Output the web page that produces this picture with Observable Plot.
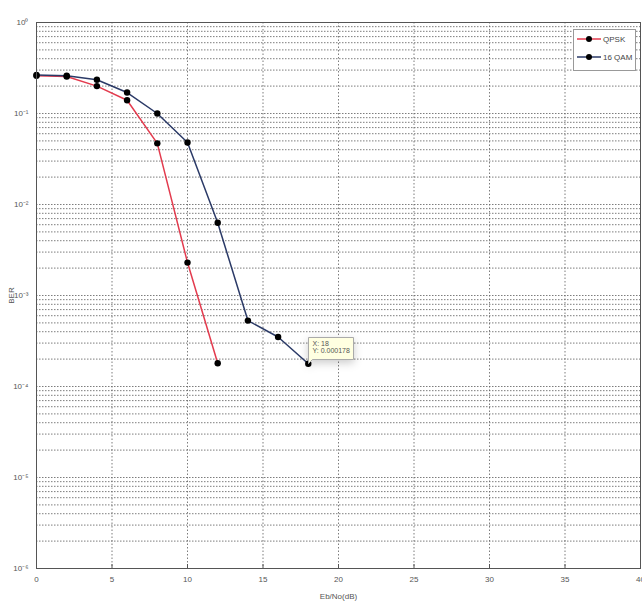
<!DOCTYPE html>
<html><head><meta charset="utf-8">
<script src="https://cdn.jsdelivr.net/npm/d3@7"></script>
<script src="https://cdn.jsdelivr.net/npm/@observablehq/plot@0.6"></script>
<style>
body{margin:0;background:#fff;font-family:"Liberation Sans",Arial,sans-serif;}
#wrap{position:relative;width:642px;height:602px;}
#legend{position:absolute;left:573px;top:29px;width:61px;height:40px;border:1px solid #999;background:#fff;font-size:8px;color:#444;white-space:nowrap;}
#legend .row{display:flex;align-items:center;height:18px;margin-left:3px;}
#legend svg{margin-right:2px;flex:none;}
</style>
</head><body>
<div id="wrap"><div id="legend"></div></div>
<script>
const ebno = [0, 2, 4, 6, 8, 10, 12, 14, 16, 18];
const qpsk = [0.26, 0.255, 0.2, 0.14, 0.047, 0.0023, 0.00018];
const qam16 = [0.265, 0.26, 0.235, 0.17, 0.1, 0.048, 0.0063, 0.00053, 0.00035, 0.000178];
const xTicks = [0, 5, 10, 15, 20, 25, 30, 35, 40];
const yTicks = [1, 1e-1, 1e-2, 1e-3, 1e-4, 1e-5, 1e-6];
const yTickLabels = ["10⁰", "10⁻¹", "10⁻²", "10⁻³", "10⁻⁴", "10⁻⁵", "10⁻⁶"];
const seriesNames = ["QPSK", "16 QAM"];
const seriesColors = ["#e33b4e", "#2b3a67"];
const tipPoint = {x: 18, y: 0.000178, label: "X: 18\nY: 0.000178"};

const rows = [];
qpsk.forEach((v, i) => rows.push({s: seriesNames[0], x: ebno[i], y: v}));
qam16.forEach((v, i) => rows.push({s: seriesNames[1], x: ebno[i], y: v}));

const minor = [];
for (let e = -6; e < 0; e++) for (let m = 2; m <= 9; m++) minor.push(m * Math.pow(10, e));

const chart = Plot.plot({
  width: 642, height: 602,
  marginLeft: 36, marginRight: 2, marginTop: 22, marginBottom: 34,
  style: {fontFamily: "Liberation Sans, Arial, sans-serif", fontSize: "8px", color: "#555"},
  x: {domain: [0, 40], ticks: xTicks},
  y: {type: "log", domain: [1e-6, 1]},
  color: {domain: seriesNames, range: seriesColors},
  marks: [
    Plot.ruleY(minor, {stroke: "#666", strokeWidth: 1, strokeDasharray: "1.5,1.5", strokeOpacity: 0.85}),
    Plot.ruleY(yTicks.slice(1, -1), {stroke: "#666", strokeDasharray: "1.5,1.5", strokeOpacity: 0.85}),
    Plot.ruleX(xTicks.slice(1, -1), {stroke: "#666", strokeDasharray: "1.5,2", strokeOpacity: 0.85}),
    Plot.axisX({ticks: xTicks, tickSize: 0, tickPadding: 8, label: "Eb/No(dB)", labelAnchor: "center", labelArrow: "none", labelOffset: 30, fill: "#555"}),
    Plot.axisX({ticks: xTicks, tickSize: 4, dy: -4, text: null, label: null, stroke: "#555"}),
    Plot.axisY({ticks: yTicks, tickFormat: (d) => yTickLabels[yTicks.indexOf(d)], tickSize: 0, tickPadding: 8, label: "BER", labelAnchor: "center", labelArrow: "none", labelOffset: 28, fill: "#555"}),
    Plot.line(rows, {x: "x", y: "y", z: "s", stroke: "s", strokeWidth: 1.5}),
    Plot.dot(rows, {x: "x", y: "y", r: 3.2, fill: "#000"}),
    Plot.tip([tipPoint], {x: "x", y: "y", title: "label", anchor: "bottom-left", fill: "#ffffe1", stroke: "#aaa", fontSize: 7, pointerSize: 4, textPadding: 4}),
    Plot.frame({stroke: "#555"})
  ]
});
document.getElementById("wrap").prepend(chart);

const legend = document.getElementById("legend");
seriesNames.forEach((n, i) => {
  const row = document.createElement("div");
  row.className = "row";
  row.innerHTML = `<svg width="24" height="8"><line x1="0" y1="4" x2="24" y2="4" stroke="${seriesColors[i]}" stroke-width="1.5"/><circle cx="12" cy="4" r="3" fill="#000"/></svg><span>${n}</span>`;
  legend.appendChild(row);
});
</script>
</body></html>
